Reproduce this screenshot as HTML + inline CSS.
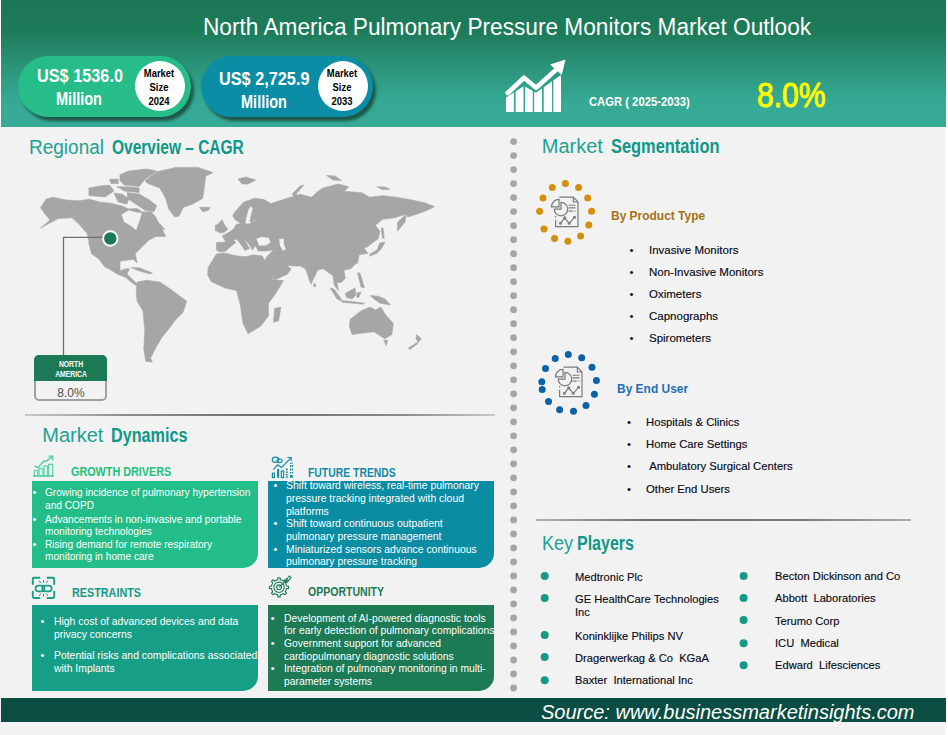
<!DOCTYPE html><html><head><meta charset="utf-8"><style>
html,body{margin:0;padding:0;width:948px;height:735px;overflow:hidden;background:#fff;position:relative;font-family:"Liberation Sans",sans-serif}
.t{position:absolute;white-space:nowrap;line-height:1}
</style></head><body>
<div style="position:absolute;left:1px;top:0px;width:945px;height:127px;background:linear-gradient(#1b7755 0%,#1e7b5a 25%,#2c967c 55%,#36a994 80%,#38ab98 100%)"></div>
<div class="t" style="left:203.0px;top:15.8px;font-size:23px;color:#fff;transform:scaleX(0.985);transform-origin:0 0;">North America Pulmonary Pressure Monitors Market Outlook</div>
<div style="position:absolute;left:18px;top:56px;width:173px;height:61px;background:#26bd89;border-radius:31px;box-shadow:3px 4px 3px rgba(20,60,50,.75)"></div>
<div style="position:absolute;left:135px;top:61px;width:50px;height:50px;background:#fff;border-radius:50%"></div>
<div class="t" style="left:37.0px;top:68.2px;font-size:17.5px;color:#fff;font-weight:bold;transform:scaleX(0.93);transform-origin:0 0;">US$ 1536.0</div>
<div class="t" style="left:56.0px;top:90.9px;font-size:17.5px;color:#fff;font-weight:bold;transform:scaleX(0.83);transform-origin:0 0;">Million</div>
<div class="t" style="left:59.0px;width:200px;text-align:center;top:67.8px;font-size:10.5px;color:#000;font-weight:bold;transform:scaleX(0.9);transform-origin:100px 0">Market</div>
<div class="t" style="left:59.0px;width:200px;text-align:center;top:82.0px;font-size:10.5px;color:#000;font-weight:bold;transform:scaleX(0.9);transform-origin:100px 0">Size</div>
<div class="t" style="left:59.0px;width:200px;text-align:center;top:96.3px;font-size:10.5px;color:#000;font-weight:bold;transform:scaleX(0.9);transform-origin:100px 0">2024</div>
<div style="position:absolute;left:201px;top:56px;width:172px;height:61px;background:#0b8ea5;border-radius:31px;box-shadow:3px 4px 3px rgba(20,60,50,.75)"></div>
<div style="position:absolute;left:318px;top:61px;width:50px;height:50px;background:#fff;border-radius:50%"></div>
<div class="t" style="left:219.0px;top:70.8px;font-size:17.5px;color:#fff;font-weight:bold;transform:scaleX(0.93);transform-origin:0 0;">US$ 2,725.9</div>
<div class="t" style="left:241.0px;top:94.0px;font-size:17.5px;color:#fff;font-weight:bold;transform:scaleX(0.83);transform-origin:0 0;">Million</div>
<div class="t" style="left:242.0px;width:200px;text-align:center;top:67.8px;font-size:10.5px;color:#000;font-weight:bold;transform:scaleX(0.9);transform-origin:100px 0">Market</div>
<div class="t" style="left:242.0px;width:200px;text-align:center;top:82.0px;font-size:10.5px;color:#000;font-weight:bold;transform:scaleX(0.9);transform-origin:100px 0">Size</div>
<div class="t" style="left:242.0px;width:200px;text-align:center;top:96.3px;font-size:10.5px;color:#000;font-weight:bold;transform:scaleX(0.9);transform-origin:100px 0">2033</div>
<svg style="position:absolute;left:0;top:0" width="948" height="130">
<defs><clipPath id="bars"><polygon points="500,101.5 524,86 536,92.8 563,73.5 563,113 500,113"/></clipPath></defs>
<g clip-path="url(#bars)" fill="#fff">
<rect x="506" y="60" width="7.8" height="52"/><rect x="515.6" y="60" width="7.9" height="52"/>
<rect x="525" y="60" width="7.8" height="52"/><rect x="534.2" y="60" width="7.8" height="52"/>
<rect x="543.7" y="60" width="8.3" height="52"/><rect x="553.3" y="60" width="7.7" height="52"/></g>
<polyline points="507.7,93 524,77.7 536.1,87.7 557.5,68.5" fill="none" stroke="#fff" stroke-width="4.6" stroke-linecap="round" stroke-linejoin="round"/>
<polygon points="565.5,59.5 550,64.5 561.8,75" fill="#fff"/>
</svg>
<div class="t" style="left:588.6px;top:95.7px;font-size:12.5px;color:#fff;font-weight:bold;transform:scaleX(0.9);transform-origin:0 0;">CAGR ( 2025-2033)</div>
<div class="t" style="left:757.0px;top:77.4px;font-size:35px;color:#ffff00;transform:scaleX(0.86);transform-origin:0 0;-webkit-text-stroke:1px #ffff00;">8.0%</div>
<div style="position:absolute;left:0px;top:127px;width:945px;height:608px;background:#f2f2f2"></div>
<div class="t" style="left:28.9px;top:136.7px;font-size:20px;color:#21a192;transform:scaleX(0.95);transform-origin:0 0;">Regional</div>
<div class="t" style="left:111.6px;top:136.7px;font-size:20px;color:#0f9888;font-weight:bold;transform:scaleX(0.775);transform-origin:0 0;">Overview – CAGR</div>
<div class="t" style="left:541.8px;top:136.2px;font-size:20px;color:#21a192;">Market</div>
<div class="t" style="left:610.6px;top:136.2px;font-size:20px;color:#0f9888;font-weight:bold;transform:scaleX(0.82);transform-origin:0 0;">Segmentation</div>
<div class="t" style="left:42.3px;top:425.2px;font-size:20px;color:#21a192;">Market</div>
<div class="t" style="left:110.6px;top:425.2px;font-size:20px;color:#0f9888;font-weight:bold;transform:scaleX(0.81);transform-origin:0 0;">Dynamics</div>
<div class="t" style="left:541.6px;top:532.7px;font-size:20px;color:#21a192;transform:scaleX(0.9);transform-origin:0 0;">Key</div>
<div class="t" style="left:577.3px;top:532.7px;font-size:20px;color:#0f9888;font-weight:bold;transform:scaleX(0.8);transform-origin:0 0;">Players</div>
<svg style="position:absolute;left:0;top:0" width="948" height="735"><g fill="#a6a6a6"><circle cx="513.6" cy="141.6" r="3.4"/><circle cx="513.6" cy="155.6" r="3.4"/><circle cx="513.6" cy="169.6" r="3.4"/><circle cx="513.6" cy="183.6" r="3.4"/><circle cx="513.6" cy="197.6" r="3.4"/><circle cx="513.6" cy="211.6" r="3.4"/><circle cx="513.6" cy="225.7" r="3.4"/><circle cx="513.6" cy="239.7" r="3.4"/><circle cx="513.6" cy="253.7" r="3.4"/><circle cx="513.6" cy="267.7" r="3.4"/><circle cx="513.6" cy="281.7" r="3.4"/><circle cx="513.6" cy="295.7" r="3.4"/><circle cx="513.6" cy="309.7" r="3.4"/><circle cx="513.6" cy="323.7" r="3.4"/><circle cx="513.6" cy="337.7" r="3.4"/><circle cx="513.6" cy="351.8" r="3.4"/><circle cx="513.6" cy="365.8" r="3.4"/><circle cx="513.6" cy="379.8" r="3.4"/><circle cx="513.6" cy="393.8" r="3.4"/><circle cx="513.6" cy="407.8" r="3.4"/><circle cx="513.6" cy="421.8" r="3.4"/><circle cx="513.6" cy="435.8" r="3.4"/><circle cx="513.6" cy="449.8" r="3.4"/><circle cx="513.6" cy="463.8" r="3.4"/><circle cx="513.6" cy="477.8" r="3.4"/><circle cx="513.6" cy="491.9" r="3.4"/><circle cx="513.6" cy="505.9" r="3.4"/><circle cx="513.6" cy="519.9" r="3.4"/><circle cx="513.6" cy="533.9" r="3.4"/><circle cx="513.6" cy="547.9" r="3.4"/><circle cx="513.6" cy="561.9" r="3.4"/><circle cx="513.6" cy="575.9" r="3.4"/><circle cx="513.6" cy="589.9" r="3.4"/><circle cx="513.6" cy="603.9" r="3.4"/><circle cx="513.6" cy="617.9" r="3.4"/><circle cx="513.6" cy="631.9" r="3.4"/><circle cx="513.6" cy="646.0" r="3.4"/><circle cx="513.6" cy="660.0" r="3.4"/><circle cx="513.6" cy="674.0" r="3.4"/><circle cx="513.6" cy="688.0" r="3.4"/></g></svg>
<div style="position:absolute;left:25px;top:414px;width:470px;height:2px;background:linear-gradient(90deg,#c8c8c8 0%,#909090 20%,#6e6e6e 50%,#8a8a8a 80%,#c8c8c8 100%)"></div>
<div style="position:absolute;left:536px;top:519px;width:375px;height:2px;background:linear-gradient(90deg,#b0b0b0 0%,#6e6e6e 30%,#7a7a7a 70%,#aaaaaa 100%)"></div>
<div style="position:absolute;left:1px;top:698px;width:945px;height:24px;background:#0b4d42"></div>
<div class="t" style="left:541.0px;top:702.1px;font-size:20px;color:#fff;font-style:italic;">Source: www.businessmarketinsights.com</div>
<svg style="position:absolute;left:0;top:0" width="948" height="735"><g fill="#a6a6a6" stroke="#a6a6a6" stroke-width="0.6" stroke-linejoin="round"><polygon points="40.5,207.5 46.0,199.3 52.8,197.2 66.6,200.0 78.9,200.7 89.9,199.3 99.5,202.0 111.8,203.4 122.8,206.2 128.7,209.0 135.0,210.0 142.0,212.0 150.9,211.7 155.0,216.0 158.5,222.6 165.0,229.5 161.9,228.8 165.7,236.4 156.2,236.4 148.6,240.2 142.9,246.0 135.2,253.6 137.1,263.1 133.3,259.3 120.0,261.2 120.0,270.7 125.7,268.8 129.5,268.8 127.0,274.0 135.2,282.0 139.0,286.0 135.0,285.0 125.7,277.4 118.1,274.5 108.6,268.8 104.8,266.9 99.0,259.3 91.4,253.6 88.6,242.1 89.9,245.0 87.1,233.6 78.9,224.0 72.0,217.8 58.3,218.5 40.5,228.1 50.0,220.0 45.0,214.0"/><polygon points="114.0,193.0 122.0,194.0 128.7,199.0 127.0,204.0 118.0,202.0"/><polygon points="127.3,192.5 139.1,194.0 149.4,199.9 156.8,205.8 153.9,211.7 145.0,210.2 136.1,204.3 127.3,198.4"/><polygon points="88.9,188.1 100.0,186.0 109.5,185.1 114.0,191.0 105.1,196.9 88.9,195.5"/><polygon points="116.9,186.6 130.0,187.0 139.1,188.1 139.1,192.5 124.3,191.0"/><polygon points="109.5,179.2 118.0,179.0 118.5,183.5 111.0,183.5"/><polygon points="129.0,209.0 137.0,208.5 141.0,211.0 133.0,212.0"/><polygon points="119.9,174.8 128.7,171.1 146.5,168.9 156.8,171.1 145.0,179.2 139.1,186.6 124.3,185.1 119.9,180.7"/><polygon points="145.0,180.7 156.8,171.8 176.0,167.4 198.2,167.4 212.9,172.6 205.6,176.2 204.1,189.5 202.6,198.4 192.3,204.3 183.4,207.3 179.0,216.1 174.5,216.9 168.6,208.7 165.7,198.4 159.8,188.1 148.0,183.6"/><polygon points="199.6,207.3 210.0,207.3 208.5,210.2 202.6,211.7"/><polygon points="131.4,267.5 140.0,268.0 152.4,273.0 150.0,274.0 138.0,270.5"/><polygon points="137.1,282.1 146.7,280.2 160.0,282.1 171.4,289.8 186.7,301.2 182.9,312.6 175.2,320.2 169.5,327.9 161.9,337.4 156.2,346.9 150.5,358.3 152.4,362.1 145.7,361.2 143.8,348.8 144.8,329.8 142.9,310.7 137.1,301.2 136.2,291.7"/><polygon points="232.7,215.9 234.0,213.1 243.5,202.2 254.4,198.2 263.9,199.5 270.7,203.6 300.0,194.2 311.8,197.2 316.2,192.7 322.2,188.3 338.4,183.9 348.7,186.8 344.3,191.2 362.0,192.7 369.4,197.2 382.7,195.7 396.0,197.2 412.3,200.1 425.6,203.1 434.4,206.8 428.5,209.7 421.1,212.7 407.8,217.1 406.3,214.1 394.5,217.8 382.7,219.3 375.3,225.2 379.8,231.1 378.3,238.5 372.4,242.9 366.5,247.4 363.5,247.4 367.9,253.3 359.1,254.8 357.6,263.6 356.2,263.2 350.8,268.7 343.9,270.1 345.3,278.3 341.2,282.4 337.0,282.4 338.4,290.7 334.3,285.2 332.9,275.6 328.8,272.8 323.3,268.7 317.8,270.1 313.7,278.3 311.0,284.5 305.5,268.7 300.0,266.0 292.5,266.0 286.0,265.0 281.0,261.5 276.2,254.9 266.7,256.8 273.4,250.1 265.8,251.1 258.2,251.1 255.3,245.4 256.3,244.4 252.5,250.1 249.0,244.0 243.5,239.0 248.5,246.5 249.6,248.5 245.0,250.5 239.5,242.5 236.3,239.0 233.5,240.3 236.0,242.5 229.7,247.3 225.9,251.1 220.2,252.0 216.4,250.1 216.4,242.5 226.0,242.0 222.1,235.9 225.9,234.0 233.5,229.2 236.3,224.5 241.1,223.5 249.0,224.0 254.4,221.3 258.5,217.2 252.0,222.0 250.0,222.0 251.0,216.0 253.0,208.0 250.3,206.0 248.0,210.0 246.0,218.0 244.9,224.0 239.5,222.7 235.4,219.9"/><polygon points="266.7,256.8 276.2,254.9 281.0,261.5 286.7,265.3 291.2,268.9 287.1,274.4 274.8,279.8 271.0,275.0 264.5,261.0"/><polygon points="215.4,230.2 218.3,223.5 222.1,219.7 224.9,225.4 227.8,229.2 224.0,232.6 220.2,233.0"/><polygon points="215.4,225.0 219.0,224.5 219.2,229.5 215.4,230.2"/><polygon points="208.2,267.6 216.4,253.9 224.0,253.0 236.3,255.8 245.8,256.8 252.5,254.9 262.0,255.8 263.5,258.0 264.5,261.0 272.1,277.1 273.5,279.8 283.5,280.5 275.9,293.2 268.4,303.3 268.4,316.0 260.8,326.1 248.1,333.7 243.0,323.5 240.5,305.8 236.7,290.6 225.3,288.1 211.4,281.8 207.6,275.0"/><polygon points="274.7,308.4 281.0,307.1 278.5,321.0 273.4,322.3"/><polygon points="350.1,319.5 360.4,311.2 370.0,307.1 375.4,309.9 380.9,307.1 385.0,314.0 393.3,323.6 391.9,334.6 385.0,338.7 378.2,334.6 374.0,331.8 361.7,333.2 352.1,334.6 349.4,326.3"/><polygon points="383.7,340.0 387.8,340.5 386.0,345.5"/><polygon points="416.6,334.6 421.4,338.7 418.0,342.8 416.0,338.0"/><polygon points="416.6,342.8 418.0,343.5 409.7,349.7 408.5,348.0"/><polygon points="379.8,242.9 384.9,242.2 381.2,248.9 376.8,253.3 369.4,256.2 370.0,254.0 377.0,250.0"/><polygon points="381.2,228.2 383.0,228.0 384.2,238.5 382.5,238.0"/><polygon points="397.5,222.3 406.3,214.1 404.9,222.3 397.5,231.1"/><polygon points="330.2,287.9 334.0,289.0 341.2,299.0 341.2,301.0 337.0,299.0"/><polygon points="341.8,300.5 352.0,301.5 364.5,303.2 364.0,304.2 342.0,302.3"/><polygon points="345.3,293.4 354.9,287.9 356.2,294.8 352.1,298.9 346.6,297.5"/><polygon points="357.0,293.0 361.0,292.0 359.0,297.0 357.0,298.0"/><polygon points="357.6,272.8 360.0,273.0 364.5,287.9 361.0,287.0"/><polygon points="370.0,295.5 378.2,296.2 385.0,298.9 390.5,305.1 379.6,303.0 374.0,299.0"/><polygon points="313.7,283.8 315.8,284.5 315.5,286.8 313.8,286.5"/><polygon points="238.0,179.0 246.0,177.0 255.7,180.0 248.0,184.0 242.0,184.0"/><polygon points="300.0,186.0 304.0,185.0 296.0,194.0 301.0,199.0 298.0,200.0 292.0,194.0"/><polygon points="326.6,175.5 335.0,176.0 341.4,180.5 333.0,180.0"/><polygon points="376.8,186.8 385.0,187.0 390.1,189.3 382.0,189.5"/></g><g fill="#f2f2f2"><polygon points="121.4,214.7 128.7,210.2 135.0,212.0 142.0,213.2 139.1,222.0 136.1,230.0 131.0,226.0 124.3,222.0"/><polygon points="256.3,238.7 262.0,236.8 268.6,237.8 270.5,242.5 265.8,245.4 259.1,245.4"/><polygon points="279.1,238.7 283.8,238.7 283.8,243.5 285.7,249.2 282.9,251.1 280.0,245.4"/></g><polyline points="63.5,356 63.5,237.3 104,237.3" fill="none" stroke="#707070" stroke-width="1.3"/><circle cx="110.3" cy="238.5" r="7.2" fill="#1b7a55" stroke="#fff" stroke-width="2"/></svg>
<div style="position:absolute;left:34px;top:355px;width:73px;height:46px;box-sizing:border-box;border:2px solid #a0a0a0;border-radius:5px;background:#f2f2f2"></div>
<div style="position:absolute;left:34px;top:355px;width:73px;height:26px;background:#1b7a55;border-radius:5px 5px 0 0"></div>
<div class="t" style="left:-29.0px;width:200px;text-align:center;top:359.8px;font-size:8.5px;color:#fff;font-weight:bold;transform:scaleX(0.8);transform-origin:100px 0">NORTH</div>
<div class="t" style="left:-29.0px;width:200px;text-align:center;top:370.1px;font-size:8.5px;color:#fff;font-weight:bold;transform:scaleX(0.8);transform-origin:100px 0">AMERICA</div>
<div class="t" style="left:-29.0px;width:200px;text-align:center;top:386.7px;font-size:12px;color:#505050;transform:scaleX(1.0);transform-origin:100px 0">8.0%</div>
<svg style="position:absolute;left:0;top:0" width="948" height="735"><circle cx="565.4" cy="183.6" r="3.5" fill="#d4900c"/><circle cx="552.3" cy="187.6" r="3.5" fill="#d4900c"/><circle cx="578.6" cy="187.6" r="3.5" fill="#d4900c"/><circle cx="543" cy="198" r="3.5" fill="#d4900c"/><circle cx="587.7" cy="198" r="3.5" fill="#d4900c"/><circle cx="539.6" cy="211.3" r="3.5" fill="#d4900c"/><circle cx="591.5" cy="211.3" r="3.5" fill="#d4900c"/><circle cx="544" cy="229" r="3.5" fill="#d4900c"/><circle cx="588.8" cy="225" r="3.5" fill="#d4900c"/><circle cx="554.5" cy="238.6" r="3.5" fill="#d4900c"/><circle cx="580.6" cy="236" r="3.5" fill="#d4900c"/><circle cx="567.9" cy="241.3" r="3.5" fill="#d4900c"/><circle cx="568.3" cy="354.6" r="3.5" fill="#0b62a8"/><circle cx="555.2" cy="358.6" r="3.5" fill="#0b62a8"/><circle cx="581.7" cy="357.8" r="3.5" fill="#0b62a8"/><circle cx="545.5" cy="368.4" r="3.5" fill="#0b62a8"/><circle cx="592" cy="367.3" r="3.5" fill="#0b62a8"/><circle cx="541.8" cy="381.8" r="3.5" fill="#0b62a8"/><circle cx="542.2" cy="389.4" r="3.5" fill="#0b62a8"/><circle cx="596.4" cy="380.4" r="3.5" fill="#0b62a8"/><circle cx="594.4" cy="394.2" r="3.5" fill="#0b62a8"/><circle cx="548.5" cy="401.6" r="3.5" fill="#0b62a8"/><circle cx="586" cy="405.4" r="3.5" fill="#0b62a8"/><circle cx="559.6" cy="409.7" r="3.5" fill="#0b62a8"/><circle cx="573.5" cy="411.2" r="3.5" fill="#0b62a8"/><g transform="translate(554,195) scale(1.0762331838565022)" fill="none" stroke="#7a7a7a" stroke-width="1.1"><path d="M5,2 L18,2 L22.3,6.5 L22.3,29.4 L1.5,29.4 L1.5,23"/><path d="M18,2 L18,6.5 L22.3,6.5"/><path d="M6.5,6.8 A6.3,6.3 0 1 1 0.2,13.1 L6.5,13.1 Z"/><path d="M-2.3,11 A7,7 0 0 1 4.7,4 L4.7,11 Z" fill="#f2f2f2"/><path d="M13.5,9.5 L20,9.5 M13.5,12 L20,12 M13.5,15 L17.5,15 M19,15 L20,15"/><polyline points="6,26.3 10,21.3 14.1,26.3 19.1,20.7"/><circle cx="6" cy="26.3" r="0.9"/><circle cx="10" cy="21.3" r="0.9"/><circle cx="14.1" cy="26.3" r="0.9"/><circle cx="19.1" cy="20.7" r="0.9"/><path d="M1.5,21 L1.5,19.5"/></g><g transform="translate(558,365) scale(1.0762331838565022)" fill="none" stroke="#7a7a7a" stroke-width="1.1"><path d="M5,2 L18,2 L22.3,6.5 L22.3,29.4 L1.5,29.4 L1.5,23"/><path d="M18,2 L18,6.5 L22.3,6.5"/><path d="M6.5,6.8 A6.3,6.3 0 1 1 0.2,13.1 L6.5,13.1 Z"/><path d="M-2.3,11 A7,7 0 0 1 4.7,4 L4.7,11 Z" fill="#f2f2f2"/><path d="M13.5,9.5 L20,9.5 M13.5,12 L20,12 M13.5,15 L17.5,15 M19,15 L20,15"/><polyline points="6,26.3 10,21.3 14.1,26.3 19.1,20.7"/><circle cx="6" cy="26.3" r="0.9"/><circle cx="10" cy="21.3" r="0.9"/><circle cx="14.1" cy="26.3" r="0.9"/><circle cx="19.1" cy="20.7" r="0.9"/><path d="M1.5,21 L1.5,19.5"/></g></svg>
<div class="t" style="left:611.2px;top:208.7px;font-size:13px;color:#a57312;font-weight:bold;transform:scaleX(0.92);transform-origin:0 0;">By Product Type</div>
<div class="t" style="left:616.7px;top:381.8px;font-size:13px;color:#1f70b2;font-weight:bold;transform:scaleX(0.92);transform-origin:0 0;">By End User</div>
<div class="t" style="left:629.5px;top:244.6px;font-size:11.5px;color:#111;">•</div>
<div class="t" style="left:649.0px;top:244.6px;font-size:11.5px;color:#0a0a14;-webkit-text-stroke:0.15px #0a0a14;">Invasive Monitors</div>
<div class="t" style="left:629.5px;top:266.8px;font-size:11.5px;color:#111;">•</div>
<div class="t" style="left:649.0px;top:266.8px;font-size:11.5px;color:#0a0a14;-webkit-text-stroke:0.15px #0a0a14;">Non-Invasive Monitors</div>
<div class="t" style="left:629.5px;top:289.0px;font-size:11.5px;color:#111;">•</div>
<div class="t" style="left:649.0px;top:289.0px;font-size:11.5px;color:#0a0a14;-webkit-text-stroke:0.15px #0a0a14;">Oximeters</div>
<div class="t" style="left:629.5px;top:311.2px;font-size:11.5px;color:#111;">•</div>
<div class="t" style="left:649.0px;top:311.2px;font-size:11.5px;color:#0a0a14;-webkit-text-stroke:0.15px #0a0a14;">Capnographs</div>
<div class="t" style="left:629.5px;top:333.4px;font-size:11.5px;color:#111;">•</div>
<div class="t" style="left:649.0px;top:333.4px;font-size:11.5px;color:#0a0a14;-webkit-text-stroke:0.15px #0a0a14;">Spirometers</div>
<div class="t" style="left:627.0px;top:416.7px;font-size:11.5px;color:#111;">•</div>
<div class="t" style="left:646.4px;top:416.7px;font-size:11.5px;color:#0a0a14;transform:scaleX(0.98);transform-origin:0 0;-webkit-text-stroke:0.15px #0a0a14;">Hospitals &amp; Clinics</div>
<div class="t" style="left:627.0px;top:439.0px;font-size:11.5px;color:#111;">•</div>
<div class="t" style="left:646.4px;top:439.0px;font-size:11.5px;color:#0a0a14;transform:scaleX(0.98);transform-origin:0 0;-webkit-text-stroke:0.15px #0a0a14;">Home Care Settings</div>
<div class="t" style="left:627.0px;top:461.3px;font-size:11.5px;color:#111;">•</div>
<div class="t" style="left:646.4px;top:461.3px;font-size:11.5px;color:#0a0a14;transform:scaleX(0.98);transform-origin:0 0;-webkit-text-stroke:0.15px #0a0a14;">&nbsp;Ambulatory Surgical Centers</div>
<div class="t" style="left:627.0px;top:483.6px;font-size:11.5px;color:#111;">•</div>
<div class="t" style="left:646.4px;top:483.6px;font-size:11.5px;color:#0a0a14;transform:scaleX(0.98);transform-origin:0 0;-webkit-text-stroke:0.15px #0a0a14;">Other End Users</div>
<div class="t" style="left:575.3px;top:571.7px;font-size:11.5px;color:#0a0a14;transform:scaleX(0.97);transform-origin:0 0;-webkit-text-stroke:0.15px #0a0a14;">Medtronic Plc</div>
<div class="t" style="left:575.3px;top:593.7px;font-size:11.5px;color:#0a0a14;transform:scaleX(0.97);transform-origin:0 0;-webkit-text-stroke:0.15px #0a0a14;">GE HealthCare&nbsp;Technologies</div>
<div class="t" style="left:575.3px;top:607.4px;font-size:11.5px;color:#0a0a14;transform:scaleX(0.97);transform-origin:0 0;-webkit-text-stroke:0.15px #0a0a14;">Inc</div>
<div class="t" style="left:575.3px;top:630.6px;font-size:11.5px;color:#0a0a14;transform:scaleX(0.97);transform-origin:0 0;-webkit-text-stroke:0.15px #0a0a14;">Koninklijke Philips NV</div>
<div class="t" style="left:575.3px;top:652.6px;font-size:11.5px;color:#0a0a14;transform:scaleX(0.97);transform-origin:0 0;-webkit-text-stroke:0.15px #0a0a14;">Dragerwerkag &amp; Co&nbsp; KGaA</div>
<div class="t" style="left:575.3px;top:675.2px;font-size:11.5px;color:#0a0a14;transform:scaleX(0.97);transform-origin:0 0;-webkit-text-stroke:0.15px #0a0a14;">Baxter&nbsp; International Inc</div>
<div class="t" style="left:774.5px;top:571.2px;font-size:11.5px;color:#0a0a14;transform:scaleX(0.97);transform-origin:0 0;-webkit-text-stroke:0.15px #0a0a14;">Becton Dickinson and Co</div>
<div class="t" style="left:774.5px;top:593.3px;font-size:11.5px;color:#0a0a14;transform:scaleX(0.97);transform-origin:0 0;-webkit-text-stroke:0.15px #0a0a14;">Abbott&nbsp; Laboratories</div>
<div class="t" style="left:774.5px;top:615.7px;font-size:11.5px;color:#0a0a14;transform:scaleX(0.97);transform-origin:0 0;-webkit-text-stroke:0.15px #0a0a14;">Terumo Corp</div>
<div class="t" style="left:774.5px;top:638.4px;font-size:11.5px;color:#0a0a14;transform:scaleX(0.97);transform-origin:0 0;-webkit-text-stroke:0.15px #0a0a14;">ICU&nbsp; Medical</div>
<div class="t" style="left:774.5px;top:660.4px;font-size:11.5px;color:#0a0a14;transform:scaleX(0.97);transform-origin:0 0;-webkit-text-stroke:0.15px #0a0a14;">Edward&nbsp; Lifesciences</div>
<svg style="position:absolute;left:0;top:0" width="948" height="735"><circle cx="544.7" cy="576" r="4" fill="#169a86"/><circle cx="544.7" cy="597.9" r="4" fill="#169a86"/><circle cx="544.7" cy="634.9" r="4" fill="#169a86"/><circle cx="544.7" cy="656.9" r="4" fill="#169a86"/><circle cx="544.7" cy="680.2" r="4" fill="#169a86"/><circle cx="743.6" cy="576" r="4" fill="#169a86"/><circle cx="743.6" cy="598.1" r="4" fill="#169a86"/><circle cx="743.6" cy="620.1" r="4" fill="#169a86"/><circle cx="743.6" cy="643.2" r="4" fill="#169a86"/><circle cx="743.6" cy="665.2" r="4" fill="#169a86"/></svg>
<div style="position:absolute;left:32px;top:481px;width:226px;height:87px;background:#23bd89;border-bottom-right-radius:15px"></div>
<div style="position:absolute;left:268px;top:481px;width:226px;height:87px;background:#0a8ca3;border-bottom-right-radius:15px"></div>
<div style="position:absolute;left:32px;top:605px;width:226px;height:86px;background:#179e87;border-bottom-right-radius:15px"></div>
<div style="position:absolute;left:268px;top:605px;width:226px;height:86px;background:#1c7a55;border-bottom-right-radius:15px"></div>
<div class="t" style="left:71.4px;top:464.9px;font-size:13.5px;color:#22c17c;font-weight:bold;transform:scaleX(0.8);transform-origin:0 0;">GROWTH DRIVERS</div>
<div class="t" style="left:307.6px;top:465.9px;font-size:13.5px;color:#138ca5;font-weight:bold;transform:scaleX(0.77);transform-origin:0 0;">FUTURE TRENDS</div>
<div class="t" style="left:71.9px;top:585.8px;font-size:13.5px;color:#149a86;font-weight:bold;transform:scaleX(0.8);transform-origin:0 0;">RESTRAINTS</div>
<div class="t" style="left:308.1px;top:584.9px;font-size:13.5px;color:#1c7a55;font-weight:bold;transform:scaleX(0.78);transform-origin:0 0;">OPPORTUNITY</div>
<div class="t" style="left:32.5px;top:487.4px;font-size:11px;color:#fff;">•</div>
<div class="t" style="left:45.3px;top:487.4px;font-size:11px;color:#fff;transform:scaleX(0.92);transform-origin:0 0;">Growing incidence of pulmonary hypertension</div>
<div class="t" style="left:45.3px;top:499.7px;font-size:11px;color:#fff;transform:scaleX(0.92);transform-origin:0 0;">and COPD</div>
<div class="t" style="left:32.5px;top:513.5px;font-size:11px;color:#fff;">•</div>
<div class="t" style="left:45.3px;top:513.5px;font-size:11px;color:#fff;transform:scaleX(0.92);transform-origin:0 0;">Advancements in non-invasive and portable</div>
<div class="t" style="left:45.3px;top:525.8px;font-size:11px;color:#fff;transform:scaleX(0.92);transform-origin:0 0;">monitoring technologies</div>
<div class="t" style="left:32.5px;top:539.0px;font-size:11px;color:#fff;">•</div>
<div class="t" style="left:45.3px;top:539.0px;font-size:11px;color:#fff;transform:scaleX(0.92);transform-origin:0 0;">Rising demand for remote respiratory</div>
<div class="t" style="left:45.3px;top:550.5px;font-size:11px;color:#fff;transform:scaleX(0.92);transform-origin:0 0;">monitoring in home care</div>
<div class="t" style="left:273.5px;top:480.4px;font-size:11px;color:#fff;">•</div>
<div class="t" style="left:286.2px;top:480.4px;font-size:11px;color:#fff;transform:scaleX(0.945);transform-origin:0 0;">Shift toward wireless, real-time pulmonary</div>
<div class="t" style="left:286.2px;top:492.7px;font-size:11px;color:#fff;transform:scaleX(0.945);transform-origin:0 0;">pressure tracking integrated with cloud</div>
<div class="t" style="left:286.2px;top:505.6px;font-size:11px;color:#fff;transform:scaleX(0.945);transform-origin:0 0;">platforms</div>
<div class="t" style="left:273.5px;top:518.2px;font-size:11px;color:#fff;">•</div>
<div class="t" style="left:286.2px;top:518.2px;font-size:11px;color:#fff;transform:scaleX(0.945);transform-origin:0 0;">Shift toward continuous outpatient</div>
<div class="t" style="left:286.2px;top:531.1px;font-size:11px;color:#fff;transform:scaleX(0.945);transform-origin:0 0;">pulmonary pressure management</div>
<div class="t" style="left:273.5px;top:544.0px;font-size:11px;color:#fff;">•</div>
<div class="t" style="left:286.2px;top:544.0px;font-size:11px;color:#fff;transform:scaleX(0.945);transform-origin:0 0;">Miniaturized sensors advance continuous</div>
<div class="t" style="left:286.2px;top:555.8px;font-size:11px;color:#fff;transform:scaleX(0.945);transform-origin:0 0;">pulmonary pressure tracking</div>
<div class="t" style="left:40.6px;top:615.9px;font-size:11px;color:#fff;">•</div>
<div class="t" style="left:53.5px;top:615.9px;font-size:11px;color:#fff;transform:scaleX(0.945);transform-origin:0 0;">High cost of advanced devices and data</div>
<div class="t" style="left:53.5px;top:628.7px;font-size:11px;color:#fff;transform:scaleX(0.945);transform-origin:0 0;">privacy concerns</div>
<div class="t" style="left:40.6px;top:650.1px;font-size:11px;color:#fff;">•</div>
<div class="t" style="left:53.5px;top:650.1px;font-size:11px;color:#fff;transform:scaleX(0.945);transform-origin:0 0;">Potential risks and complications associated</div>
<div class="t" style="left:53.5px;top:662.5px;font-size:11px;color:#fff;transform:scaleX(0.945);transform-origin:0 0;">with Implants</div>
<div class="t" style="left:270.8px;top:612.6px;font-size:11px;color:#fff;">•</div>
<div class="t" style="left:283.5px;top:612.6px;font-size:11px;color:#fff;transform:scaleX(0.94);transform-origin:0 0;">Development of AI-powered diagnostic tools</div>
<div class="t" style="left:283.5px;top:624.9px;font-size:11px;color:#fff;transform:scaleX(0.94);transform-origin:0 0;">for early detection of pulmonary complications</div>
<div class="t" style="left:270.8px;top:637.8px;font-size:11px;color:#fff;">•</div>
<div class="t" style="left:283.5px;top:637.8px;font-size:11px;color:#fff;transform:scaleX(0.94);transform-origin:0 0;">Government support for advanced</div>
<div class="t" style="left:283.5px;top:650.7px;font-size:11px;color:#fff;transform:scaleX(0.94);transform-origin:0 0;">cardiopulmonary diagnostic solutions</div>
<div class="t" style="left:270.8px;top:663.3px;font-size:11px;color:#fff;">•</div>
<div class="t" style="left:283.5px;top:663.3px;font-size:11px;color:#fff;transform:scaleX(0.94);transform-origin:0 0;">Integration of pulmonary monitoring in multi-</div>
<div class="t" style="left:283.5px;top:675.6px;font-size:11px;color:#fff;transform:scaleX(0.94);transform-origin:0 0;">parameter systems</div>
<svg style="position:absolute;left:0;top:0" width="948" height="735">
<g fill="none" stroke="#5ed2ae" stroke-width="1.3">
<path d="M32.9,476 L53.8,476" stroke-width="1.8"/>
<rect x="34.4" y="470.5" width="3.4" height="5.5"/><rect x="39" y="468.5" width="3.8" height="7.5"/>
<rect x="44" y="466" width="3.6" height="10"/><rect x="48.6" y="464.3" width="4" height="11.7"/>
<polyline points="34.5,466 38,467.5 44,461 46,461.5 52.5,456.5" stroke-width="1.6"/>
<polyline points="48.5,456.3 52.7,456.3 52.7,460.5" stroke-width="1.6"/>
</g>
<g fill="none" stroke="#1490a5" stroke-width="1.2">
<ellipse cx="275.5" cy="459.8" rx="3.2" ry="2.6"/><ellipse cx="279.5" cy="460.8" rx="2.6" ry="1.8"/>
<polyline points="273.2,469.6 277.7,464.9 281.5,467.4 291,457.8"/>
<polyline points="287.5,457.5 291.2,457.5 291.2,461"/>
<rect x="272.4" y="473.2" width="2" height="4.4"/><rect x="281.3" y="471" width="2.3" height="6.6"/>
</g>
<g fill="#1490a5"><rect x="277" y="469" width="2.2" height="8.8"/>
<rect x="285.9" y="468.5" width="1.8" height="1.8"/><rect x="285.9" y="471.5" width="1.8" height="1.5"/><rect x="285.9" y="474" width="1.8" height="1.5"/><rect x="285.9" y="476.3" width="1.8" height="1.5"/>
<rect x="290" y="462.7" width="2.8" height="1"/><rect x="290" y="465" width="1.2" height="2"/><rect x="291.8" y="465" width="1.2" height="2"/>
<rect x="290" y="468.5" width="1.2" height="2"/><rect x="291.8" y="468.5" width="1.2" height="2"/><rect x="290" y="472" width="1.2" height="1.5"/><rect x="291.8" y="472" width="1.2" height="1.5"/>
<rect x="290" y="475" width="2.8" height="2.8"/></g>
<g fill="none" stroke="#179e87" stroke-width="1.9" stroke-linecap="round">
<path d="M32.8,584 L32.8,579 Q32.8,577.8 34,577.8 L39.5,577.8"/>
<path d="M47.5,577.8 L53,577.8 Q54.2,577.8 54.2,579 L54.2,584"/>
<path d="M32.8,591.8 L32.8,596.8 Q32.8,598 34,598 L39.5,598"/>
<path d="M47.5,598 L53,598 Q54.2,598 54.2,596.8 L54.2,591.8"/>
<rect x="35.5" y="585.6" width="9" height="5.8" rx="2.9" stroke-width="1.7"/>
<rect x="42.2" y="585.6" width="9.5" height="5.8" rx="2.9" stroke-width="1.7"/>
<path d="M43.5,580.5 L43.5,582.3 M39.5,581 L40.5,582.8 M47.5,581 L46.5,582.8 M43.5,594.2 L43.5,596 M39.5,595.5 L40.5,593.8 M47.5,595.5 L46.5,593.8" stroke-width="1"/>
</g>
<g fill="none" stroke="#1c7a55" stroke-width="1.1">
<path d="M286.49,586.01 L288.53,586.15 L288.53,588.45 L286.49,588.59 L286.02,590.21 L285.21,591.69 L286.55,593.23 L284.93,594.85 L283.39,593.51 L281.91,594.32 L280.29,594.79 L280.15,596.83 L277.85,596.83 L277.71,594.79 L276.09,594.32 L274.61,593.51 L273.07,594.85 L271.45,593.23 L272.79,591.69 L271.98,590.21 L271.51,588.59 L269.47,588.45 L269.47,586.15 L271.51,586.01 L271.98,584.39 L272.79,582.91 L271.45,581.37 L273.07,579.75 L274.61,581.09 L276.09,580.28 L277.71,579.81 L277.85,577.77 L280.15,577.77 L280.29,579.81 L281.91,580.28 L283.39,581.09 L284.93,579.75 L286.55,581.37 L285.21,582.91 L286.02,584.39Z"/>
<circle cx="279" cy="587.3" r="5.2"/><circle cx="279" cy="587.3" r="2.4"/>
<path d="M279,587.3 L287,579.5"/>
<path d="M284.5,581.5 L289.5,576 L291,577.5 L287,582.5 Z M286,578.5 L288.5,581"/>
</g>
</svg>
</body></html>
